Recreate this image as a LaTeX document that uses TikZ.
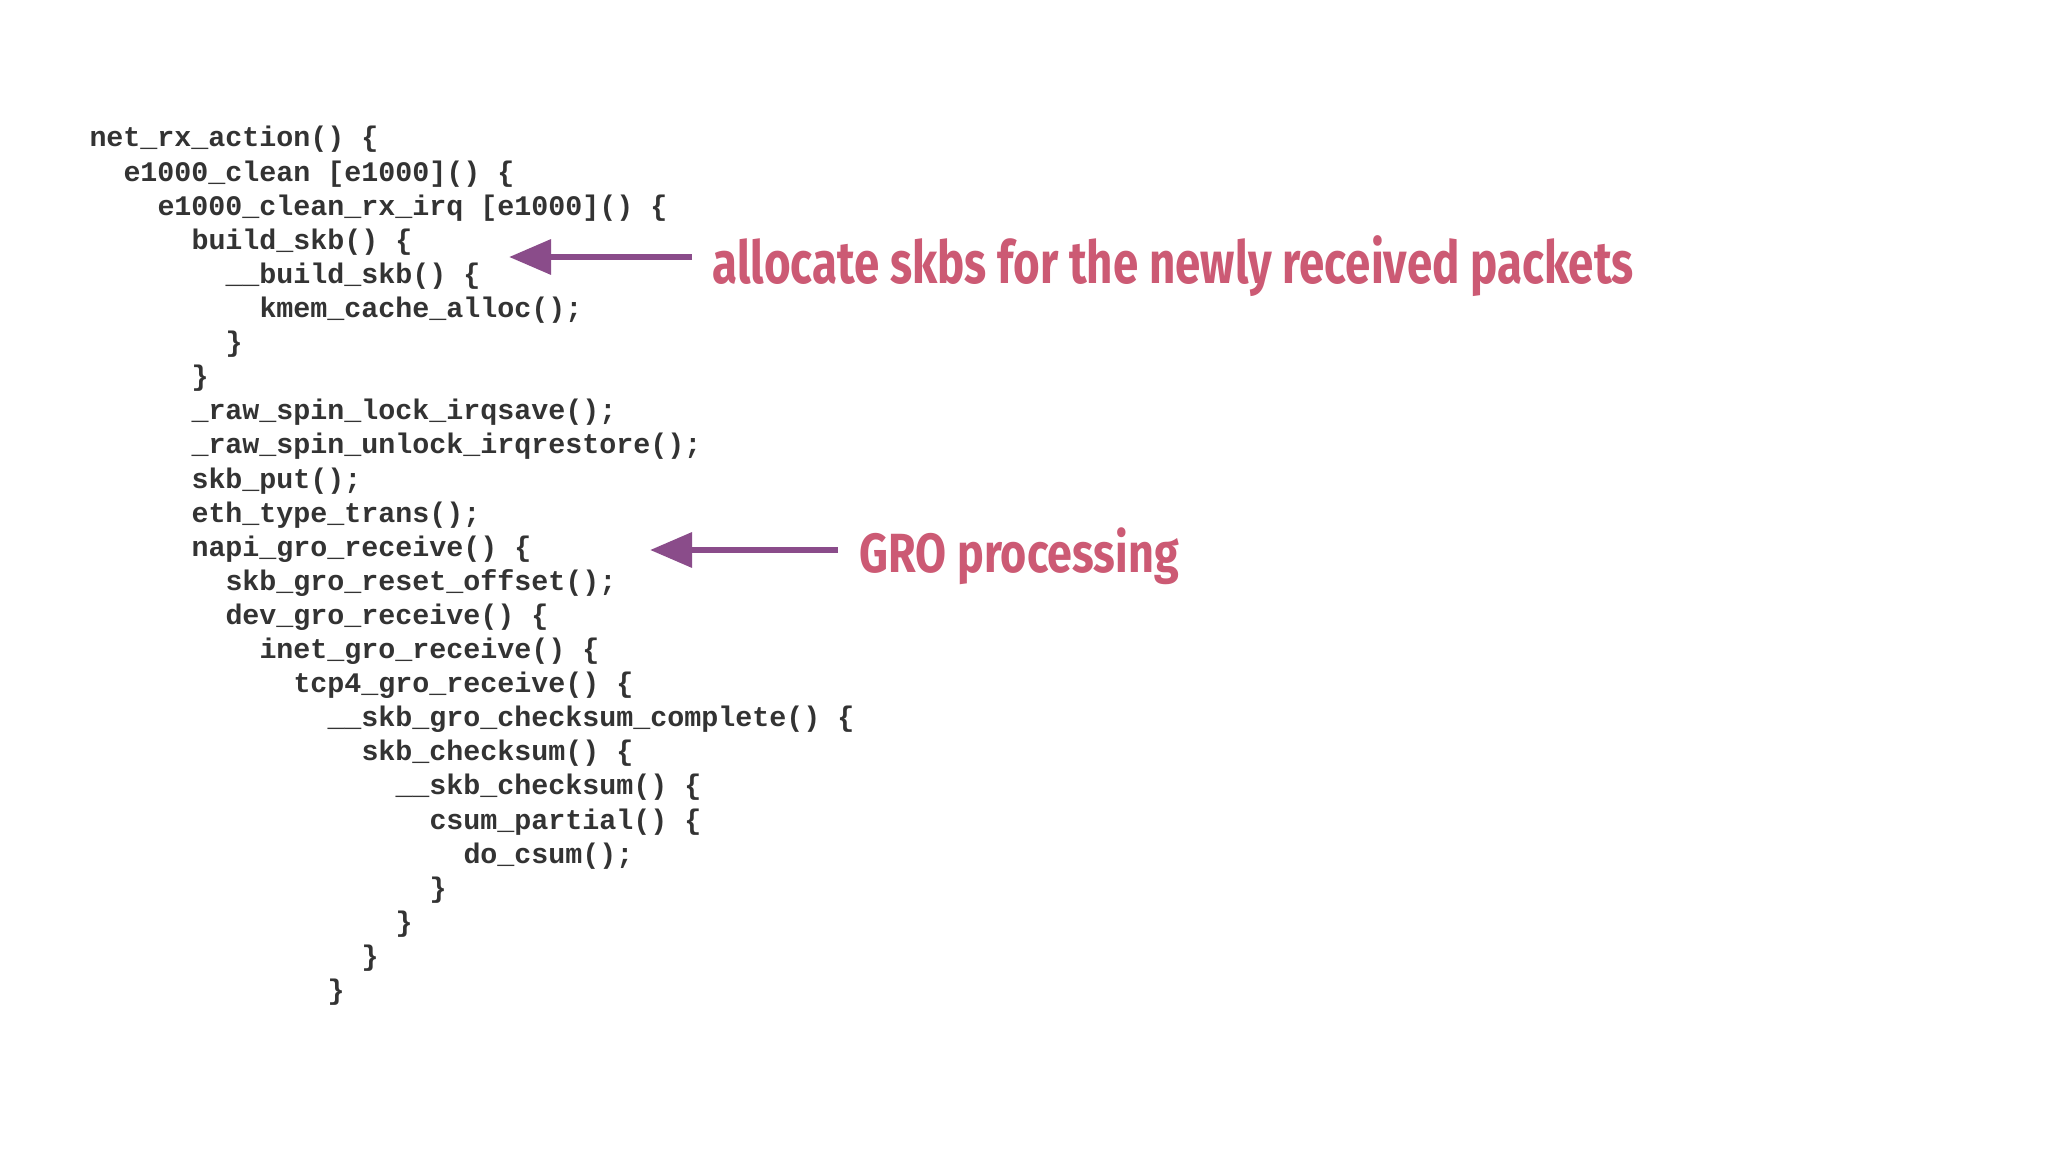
\documentclass[tikz,border=0pt]{standalone}
\usepackage{fontspec}
\setmonofont{Liberation Mono}
\newfontfamily\annfont{Fira Sans}
\usetikzlibrary{arrows.meta}
\definecolor{codecol}{HTML}{333333}
\definecolor{anncol}{HTML}{CC5A74}
\definecolor{arrcol}{HTML}{8A4C8A}
\tikzset{
  codeline/.style={anchor=base west,inner sep=0pt,text=codecol,font=\fontsize{8.06}{9.7}\selectfont\ttfamily\bfseries},
  annot/.style={anchor=west,inner sep=0pt,text=anncol},
  pointer/.style={draw=arrcol,line width=0.065cm,-{Triangle[length=0.42cm,width=0.34cm]}}
}
\begin{document}
\begin{tikzpicture}
\useasboundingbox (0,0) rectangle (20.48,-11.52);
\fill[white] (0,0) rectangle (20.48,-11.52);
\def\lx{0.888}\def\ind{0.34}\def\ly{-1.47}\def\ls{0.341}
\newcommand{\codeln}[3]{\node[codeline] (l#1) at ({\lx+#2*\ind},{\ly-(#1-1)*\ls}) {#3};}
\codeln{1}{0}{net\_rx\_action() \{}
\codeln{2}{1}{e1000\_clean [e1000]() \{}
\codeln{3}{2}{e1000\_clean\_rx\_irq [e1000]() \{}
\codeln{4}{3}{build\_skb() \{}
\codeln{5}{4}{\_\_build\_skb() \{}
\codeln{6}{5}{kmem\_cache\_alloc();}
\codeln{7}{4}{\}}
\codeln{8}{3}{\}}
\codeln{9}{3}{\_raw\_spin\_lock\_irqsave();}
\codeln{10}{3}{\_raw\_spin\_unlock\_irqrestore();}
\codeln{11}{3}{skb\_put();}
\codeln{12}{3}{eth\_type\_trans();}
\codeln{13}{3}{napi\_gro\_receive() \{}
\codeln{14}{4}{skb\_gro\_reset\_offset();}
\codeln{15}{4}{dev\_gro\_receive() \{}
\codeln{16}{5}{inet\_gro\_receive() \{}
\codeln{17}{6}{tcp4\_gro\_receive() \{}
\codeln{18}{7}{\_\_skb\_gro\_checksum\_complete() \{}
\codeln{19}{8}{skb\_checksum() \{}
\codeln{20}{9}{\_\_skb\_checksum() \{}
\codeln{21}{10}{csum\_partial() \{}
\codeln{22}{11}{do\_csum();}
\codeln{23}{10}{\}}
\codeln{24}{9}{\}}
\codeln{25}{8}{\}}
\codeln{26}{7}{\}}
\node[annot] (a1) at (7.12,-2.66) {\resizebox*{9.21cm}{0.61cm}{\annfont\bfseries allocate skbs for the newly received packets}};
\node[annot] (a2) at (8.59,-5.56) {\resizebox*{3.19cm}{0.57cm}{\annfont\bfseries GRO processing}};
\coordinate (s1) at (6.92,-2.57);
\coordinate (e1) at (5.09,-2.57);
\coordinate (s2) at (8.38,-5.50);
\coordinate (e2) at (6.50,-5.50);
\draw[pointer] (s1) -- (e1);
\draw[pointer] (s2) -- (e2);
\end{tikzpicture}
\end{document}
